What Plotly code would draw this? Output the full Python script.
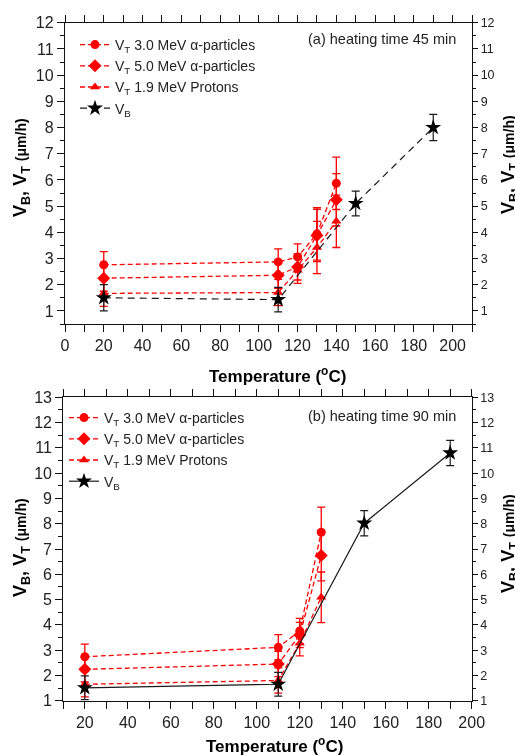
import plotly.graph_objects as go

# ---- data -------------------------------------------------------------
# (a) heating time 45 min
temp_t_a = [20, 110, 120, 130, 140]
vt_alpha30_a = [2.76, 2.87, 3.06, 3.94, 5.87]
vt_alpha50_a = [2.25, 2.36, 2.68, 3.88, 5.24]
vt_p19_a = [1.67, 1.70, 2.55, 3.42, 4.42]
err_t_a = [0.5, 0.5, 0.5, 1.0, 1.0]

temp_b_a = [20, 110, 150, 190]
vb_a = [1.50, 1.43, 5.10, 8.00]
err_b_a = [0.5, 0.47, 0.47, 0.5]

# (b) heating time 90 min
temp_t_b = [20, 110, 120, 130]
vt_alpha30_b = [2.74, 3.11, 3.76, 7.66]
vt_alpha50_b = [2.24, 2.45, 3.60, 6.74]
vt_p19_b = [1.65, 1.80, 3.27, 5.09]
err_t_b = [0.5, 0.5, 0.5, 1.0]

temp_b_b = [20, 110, 150, 190]
vb_b = [1.51, 1.65, 8.02, 10.80]
err_b_b = [0.47, 0.47, 0.5, 0.5]

x_ticks_a = [0, 20, 40, 60, 80, 100, 120, 140, 160, 180, 200]
x_ticks_b = [20, 40, 60, 80, 100, 120, 140, 160, 180, 200]
y_ticks_a = list(range(1, 13))
y_ticks_b = list(range(1, 14))

names = [
    "V<sub>T</sub> 3.0 MeV α-particles",
    "V<sub>T</sub> 5.0 MeV α-particles",
    "V<sub>T</sub> 1.9 MeV Protons",
    "V<sub>B</sub>",
]

# ---- layout helpers (pixel -> paper) ----------------------------------
W, H = 515, 756
FONT = "Liberation Sans, Arial, sans-serif"
TXT = "#222222"
RED = "#ff0000"
DARK = "#1a1a1a"


def fx(p):
    return p / W


def fy(p):
    return 1 - p / H


fig = go.Figure()


def add_panel(xa, ya, ya_right, legend, temps_t, s30, s50, s19, err_t,
              temps_b, vb, err_b, vb_dash):
    red_line = dict(color=RED, width=1.3, dash="5px,3px")
    red_err = dict(type="data", array=err_t, color=RED, thickness=1.3, width=4)
    for vals, sym, size, name in [
        (s30, "circle", 9, names[0]),
        (s50, "diamond", 10, names[1]),
        (s19, "triangle-up", 9, names[2]),
    ]:
        fig.add_trace(go.Scatter(
            x=temps_t, y=vals, name=name, mode="lines+markers",
            line=red_line, marker=dict(symbol=sym, size=size, color=RED),
            error_y=red_err, xaxis=xa, yaxis=ya, legend=legend,
        ))
    fig.add_trace(go.Scatter(
        x=temps_b, y=vb, name=names[3], mode="lines+markers",
        line=dict(color=DARK, width=1.2, dash=vb_dash),
        marker=dict(symbol="star", size=12, color="black"),
        error_y=dict(type="data", array=err_b, color=DARK, thickness=1.2, width=4),
        xaxis=xa, yaxis=ya, legend=legend,
    ))
    # same bulk-etch series bound to the right-hand scale (not shown) so
    # that the right axis is laid out with its own labels
    fig.add_trace(go.Scatter(
        x=temps_b, y=vb, mode="markers", opacity=0, showlegend=False,
        hoverinfo="skip", xaxis=xa, yaxis=ya_right,
    ))


add_panel("x", "y", "y2", "legend", temp_t_a, vt_alpha30_a, vt_alpha50_a, vt_p19_a,
          err_t_a, temp_b_a, vb_a, err_b_a, "7px,5px")
add_panel("x2", "y3", "y4", "legend2", temp_t_b, vt_alpha30_b, vt_alpha50_b, vt_p19_b,
          err_t_b, temp_b_b, vb_b, err_b_b, "solid")

axis_common = dict(
    showline=True, linecolor="#111111", linewidth=1.3, showgrid=False, zeroline=False,
    ticks="outside", tickcolor="#111111", tickwidth=1.2, automargin=False,
    ticklabeloverflow="allow",
    tickfont=dict(family=FONT, size=16, color=TXT),
)


def xaxis(domain, rng, ticks, anchor):
    return dict(
        axis_common, domain=domain, range=rng, anchor=anchor, mirror="allticks",
        tickmode="array", tickvals=ticks, ticklen=7,
        minor=dict(ticks="outside", ticklen=4, dtick=10, tick0=0, tickcolor="#111111"),
    )


def yleft(domain, rng, ticks, anchor):
    return dict(
        axis_common, domain=domain, range=rng, anchor=anchor,
        tickmode="array", tickvals=ticks, ticklen=7,
        minor=dict(ticks="outside", ticklen=4, dtick=0.5, tick0=0, tickcolor="#111111"),
    )


def yright(over, rng, ticks, anchor):
    return dict(
        axis_common, overlaying=over, side="right", range=rng, anchor=anchor,
        tickmode="array", tickvals=ticks, ticklen=5,
        tickfont=dict(family=FONT, size=12.5, color=TXT),
        minor=dict(ticks="outside", ticklen=3, dtick=0.5, tick0=0, tickcolor="#111111"),
    )


dom_x_a = [fx(65), fx(472)]
dom_y_a = [fy(324), fy(22.7)]
dom_x_b = [fx(63.3), fx(471.7)]
dom_y_b = [fy(700.7), fy(397.3)]

legend_common = dict(
    xanchor="left", yanchor="top", bgcolor="rgba(0,0,0,0)", borderwidth=0,
    font=dict(family=FONT, size=14, color=TXT), tracegroupgap=0,
)

fig.update_layout(
    width=W, height=H, margin=dict(l=0, r=0, t=0, b=0),
    paper_bgcolor="white", plot_bgcolor="white",
    font=dict(family=FONT, color=TXT),
    showlegend=True,
    xaxis=xaxis(dom_x_a, [0, 210], x_ticks_a, "y"),
    yaxis=yleft(dom_y_a, [0.5, 12], y_ticks_a, "x"),
    yaxis2=yright("y", [0.5, 12], y_ticks_a, "x"),
    xaxis2=xaxis(dom_x_b, [10, 200], x_ticks_b, "y3"),
    yaxis3=yleft(dom_y_b, [1, 13], y_ticks_b, "x2"),
    yaxis4=yright("y3", [1, 13], y_ticks_b, "x2"),
    legend=dict(legend_common, x=fx(75), y=fy(29)),
    legend2=dict(legend_common, x=fx(64), y=fy(402)),
)

ytitle = ("<b>V<sub>B</sub>, V<sub>T</sub> "
          "<span style='font-size:14px'>(μm/h)</span></b>")
xtitle = "<b>Temperature (<sup>o</sup>C)</b>"

ann = []
for cx, cy in [(277, 375), (274, 745)]:
    ann.append(dict(text=xtitle, x=fx(cx), y=fy(cy), xref="paper", yref="paper",
                    xanchor="center", yanchor="middle", showarrow=False,
                    font=dict(family=FONT, size=17, color="black")))
for cx, cy in [(21, 168), (509, 165), (21, 548), (509, 544)]:
    ann.append(dict(text=ytitle, x=fx(cx), y=fy(cy), xref="paper", yref="paper",
                    xanchor="center", yanchor="middle", showarrow=False, textangle=-90,
                    font=dict(family=FONT, size=18, color="black")))
for txt, cy in [("(a) heating time 45 min", 39), ("(b) heating time 90 min", 416)]:
    ann.append(dict(text=txt, x=fx(458), y=fy(cy), xref="paper", yref="paper",
                    xanchor="right", yanchor="middle", showarrow=False,
                    font=dict(family=FONT, size=14.5, color=TXT)))
fig.update_layout(annotations=ann)

fig.write_html("out.html")
